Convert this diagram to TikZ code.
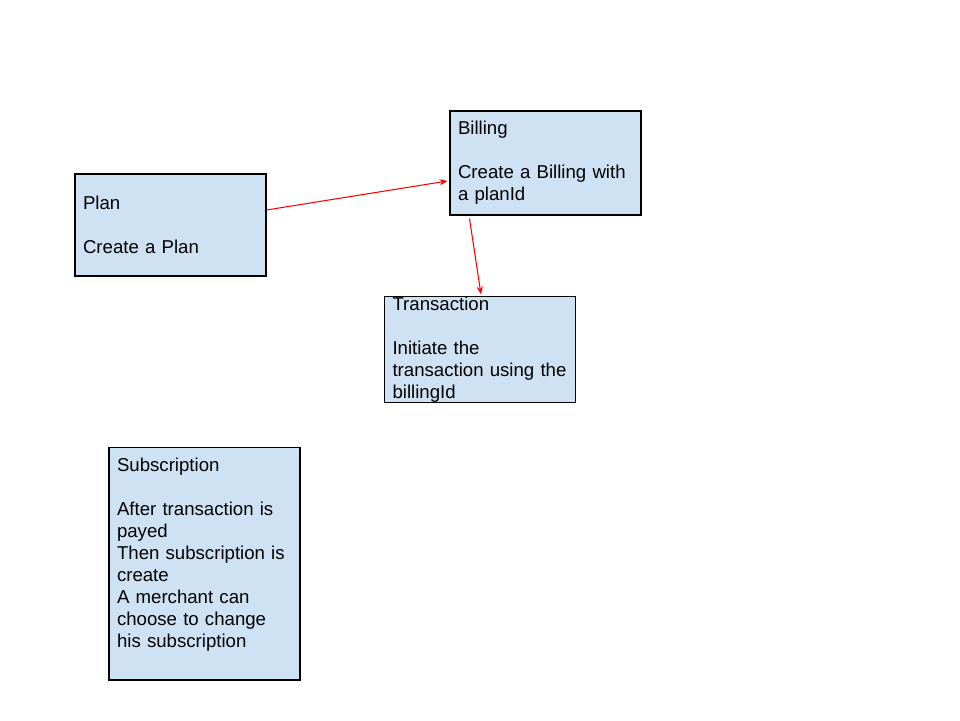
\documentclass[tikz,border=0pt]{standalone}
\usepackage{fontspec}
\setmainfont{Liberation Sans}
\usetikzlibrary{arrows.meta,positioning,calc}
\definecolor{cardblue}{RGB}{207,226,243}

\begin{document}
\begin{tikzpicture}[
    x=0.02cm, y=-0.02cm,
    font=\fontsize{10.6}{12.5}\selectfont,
    card/.style={draw=black, line width=0.6pt, fill=cardblue, text width=3.5cm,
      align=left, inner xsep=0.16cm, inner ysep=0pt, minimum width=3.82cm},
    link/.style={-{Stealth[length=4.5pt,width=3.5pt]}, draw=red, line width=0.6pt}
  ]
    \useasboundingbox (0,0) rectangle (960,720);
    \node[card, minimum height=2.04cm] (plan) at (170.5,225)
      {Plan\\[12.5pt]Create a Plan};
    \node[card, minimum height=2.08cm] (billing) at (545.5,163)
      {Billing\\[12.5pt]Create a Billing with\\a planId};
    \node[card, minimum height=2.06cm] (trans) at (480,349.5)
      {Transaction\\[12.5pt]Initiate the\\transaction using the\\billingId};
    \node[card, minimum height=4.66cm] (subs) at (204.5,563.5)
      {Subscription\\[12.5pt]After transaction is\\payed\\Then subscription is\\create\\A merchant can\\choose to change\\his subscription\\~};

    \draw[link] ([yshift=0.3cm]plan.east) -- ([xshift=-0.04cm,yshift=-0.36cm]billing.west);
    \draw[link] ([xshift=0.4cm,yshift=-0.06cm]billing.south west) -- ([xshift=1.94cm,yshift=0.04cm]trans.north west);
\end{tikzpicture}
\end{document}
